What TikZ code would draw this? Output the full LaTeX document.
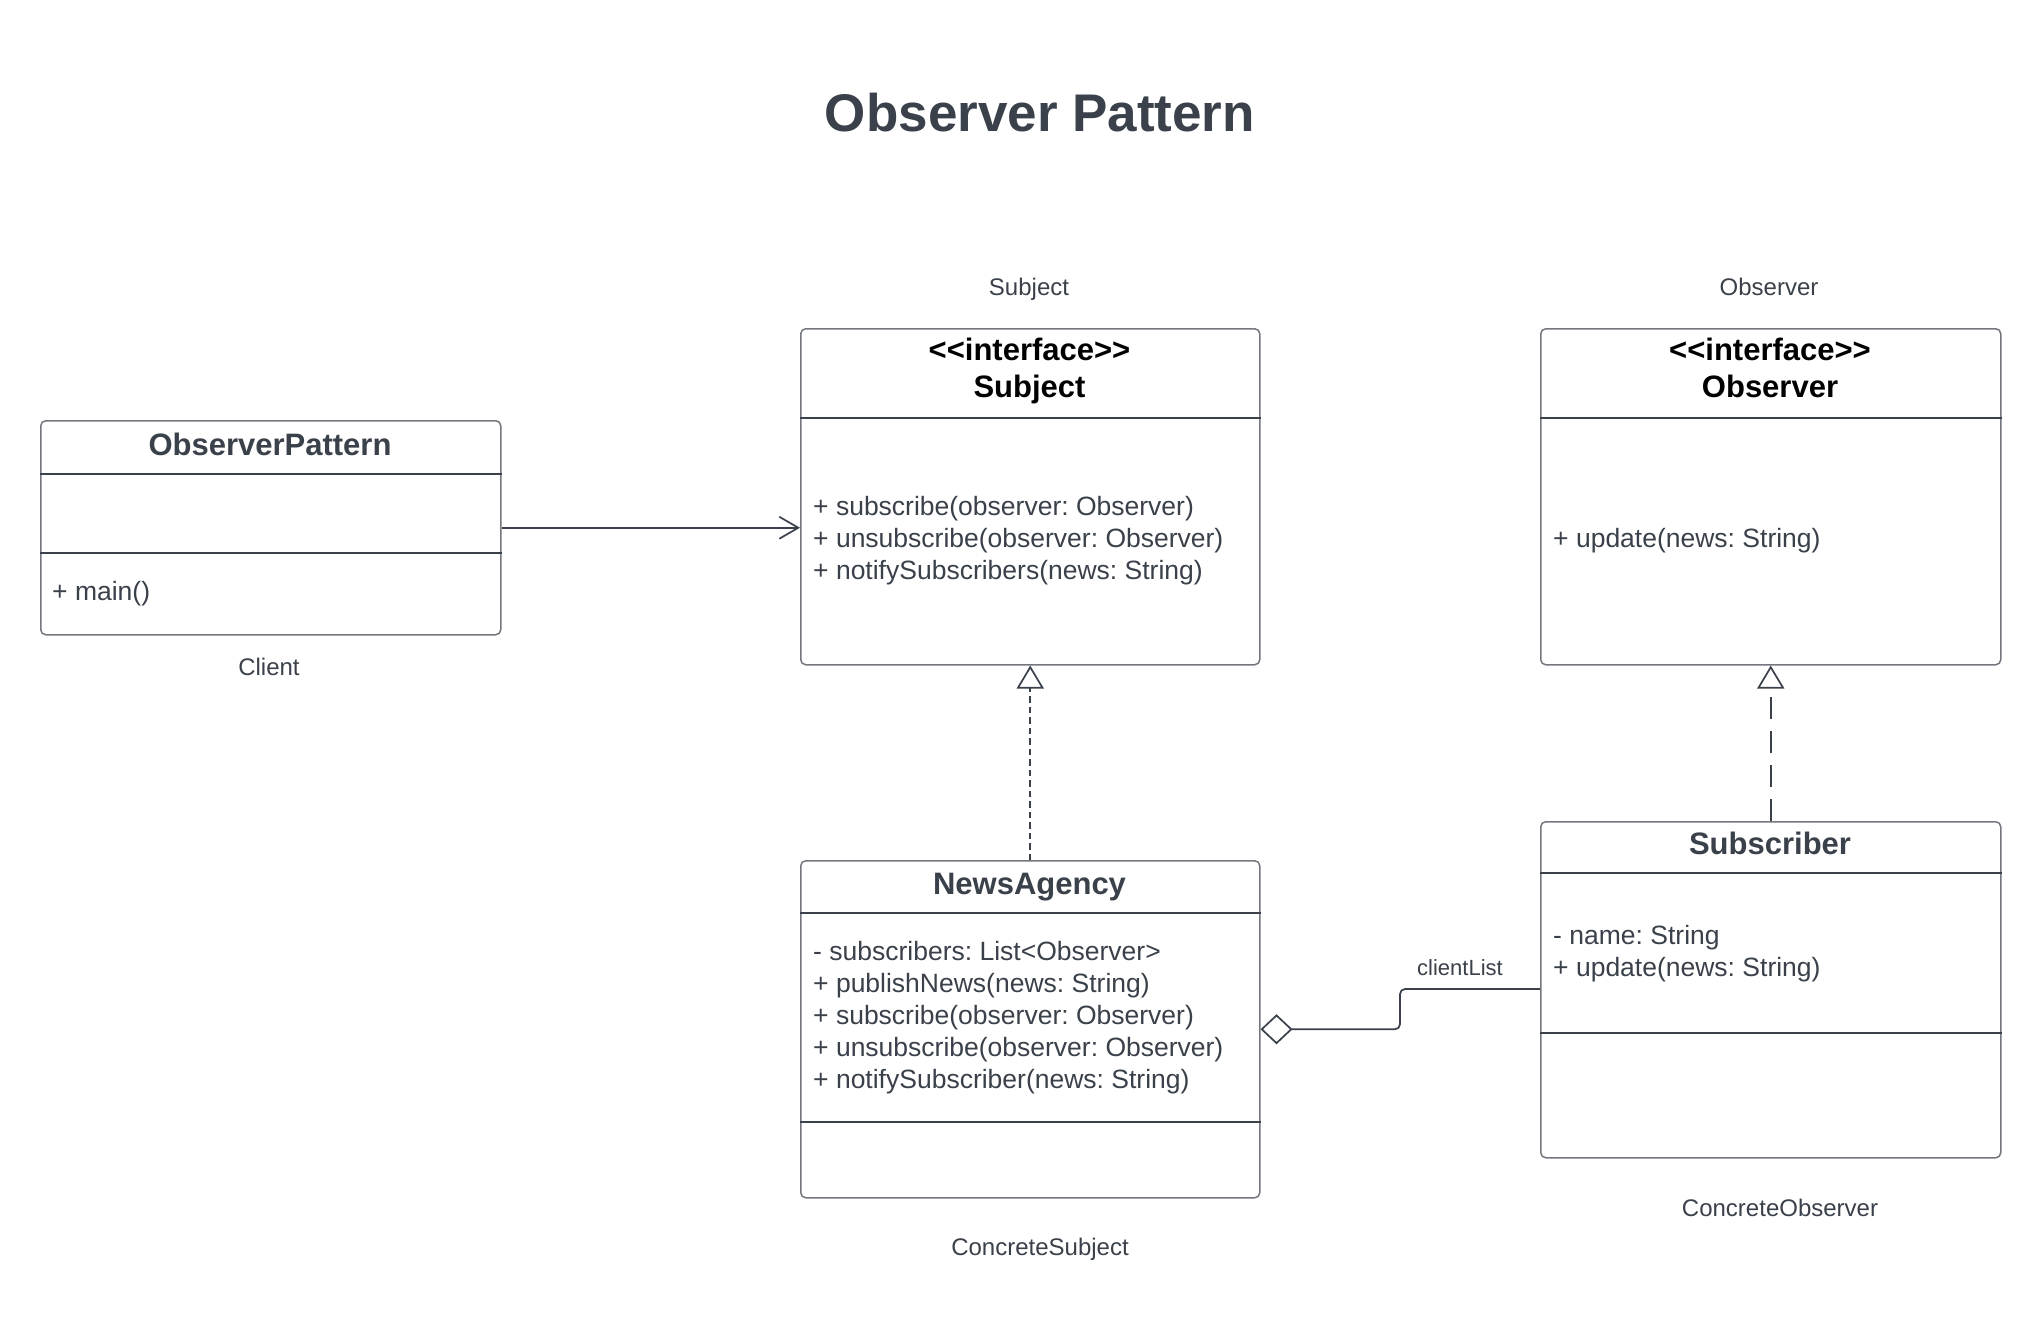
\documentclass[tikz,border=0pt]{standalone}
\usepackage{fontspec}
\setmainfont{Liberation Sans}
\usetikzlibrary{arrows.meta}
\definecolor{ink}{HTML}{3A414A}
\definecolor{frame}{HTML}{74787E}
\frenchspacing
\tikzset{
  umlbox/.style={draw=frame, line width=1.5pt, rounded corners=5pt, inner sep=0pt, anchor=north west},
  divider/.style={draw=ink, line width=1.3pt},
  hdr/.style={font=\fontsize{31}{36}\selectfont\bfseries, text=ink, inner sep=0pt},
  ihdr/.style={font=\fontsize{31}{38}\selectfont\bfseries, text=black, inner sep=0pt, anchor=base},
  member/.style={font=\fontsize{26.5}{32}\selectfont\frenchspacing, text=ink, inner sep=0pt, anchor=west, align=left},
  lbl/.style={font=\fontsize{24}{28}\selectfont, text=ink, inner sep=0pt},
  conn/.style={draw=ink, line width=1.7pt},
}
\begin{document}
\begin{tikzpicture}[x=1pt,y=-1pt]
\useasboundingbox[fill=white] (0,0) rectangle (2040,1320);
\node[font=\fontsize{53}{60}\selectfont\bfseries, text=ink, inner sep=0pt] (title) at (1040,113) {Observer Pattern};

% ObserverPattern (Client)
\node[umlbox, minimum width=460pt, minimum height=214pt] (op) at (40,420) {};
\draw[divider] (op.west |- 0,474) -- (op.east |- 0,474);
\draw[divider] (op.west |- 0,553) -- (op.east |- 0,553);
\node[hdr] (opname) at (270,444) {ObserverPattern};
\node[member] (opm) at (52,594) {+ main()};
\node[lbl] (client) at (269,667) {Client};

% Subject interface
\node[umlbox, minimum width=459pt, minimum height=336pt] (subj) at (800,328) {};
\draw[divider] (subj.west |- 0,418) -- (subj.east |- 0,418);
\node[ihdr] (subjst) at (1029.5,360) {\mbox{<}\mbox{<}interface\mbox{>}\mbox{>}};
\node[ihdr] (subjname) at (1029.5,397) {Subject};
\node[member] (subjm) at (813,541) {+ subscribe(observer: Observer)\\+ unsubscribe(observer: Observer)\\+ notifySubscribers(news: String)};
\node[lbl] (subjlbl) at (1029,289) {Subject};

% Observer interface
\node[umlbox, minimum width=460pt, minimum height=336pt] (obs) at (1540,328) {};
\draw[divider] (obs.west |- 0,418) -- (obs.east |- 0,418);
\node[ihdr] (obsst) at (1770,360) {\mbox{<}\mbox{<}interface\mbox{>}\mbox{>}};
\node[ihdr] (obsname) at (1770,397) {Observer};
\node[member] (obsm) at (1553,541) {+ update(news: String)};
\node[lbl] (obslbl) at (1769,287) {Observer};

% NewsAgency
\node[umlbox, minimum width=459pt, minimum height=337pt] (na) at (800,860) {};
\draw[divider] (na.west |- 0,913) -- (na.east |- 0,913);
\draw[divider] (na.west |- 0,1122) -- (na.east |- 0,1122);
\node[hdr] (naname) at (1029.5,887) {NewsAgency};
\node[member] (nam) at (813,1018) {- subscribers: List<Observer>\\+ publishNews(news: String)\\+ subscribe(observer: Observer)\\+ unsubscribe(observer: Observer)\\+ notifySubscriber(news: String)};
\node[lbl] (nalbl) at (1040,1249) {ConcreteSubject};

% Subscriber
\node[umlbox, minimum width=460pt, minimum height=336pt] (sub) at (1540,821) {};
\draw[divider] (sub.west |- 0,873) -- (sub.east |- 0,873);
\draw[divider] (sub.west |- 0,1033) -- (sub.east |- 0,1033);
\node[hdr] (subname) at (1770,843) {Subscriber};
\node[member] (subm) at (1553,954) {- name: String\\+ update(news: String)};
\node[lbl] (sublbl) at (1780,1208) {ConcreteObserver};

% Connectors
\draw[conn, -{Straight Barb[length=19pt,width=22pt]}] (op.east) -- (op.east -| subj.west);
\draw[conn, dash pattern=on 6.5pt off 4pt, -{Triangle[open,length=23pt,width=27pt]}] (na.north) -- (subj.south);
\draw[conn, dash pattern=on 22pt off 12pt, -{Triangle[open,length=23pt,width=27pt]}] (sub.north) -- (obs.south);
\coordinate (bend) at (1400,989);
\draw[conn, rounded corners=5pt, {Diamond[open,length=32pt,width=30pt]}-] (na.east) -| (bend) -- (bend -| sub.west);
\node[lbl, font=\fontsize{22}{26}\selectfont] (cl) at (1460,968) {clientList};
\end{tikzpicture}
\end{document}
